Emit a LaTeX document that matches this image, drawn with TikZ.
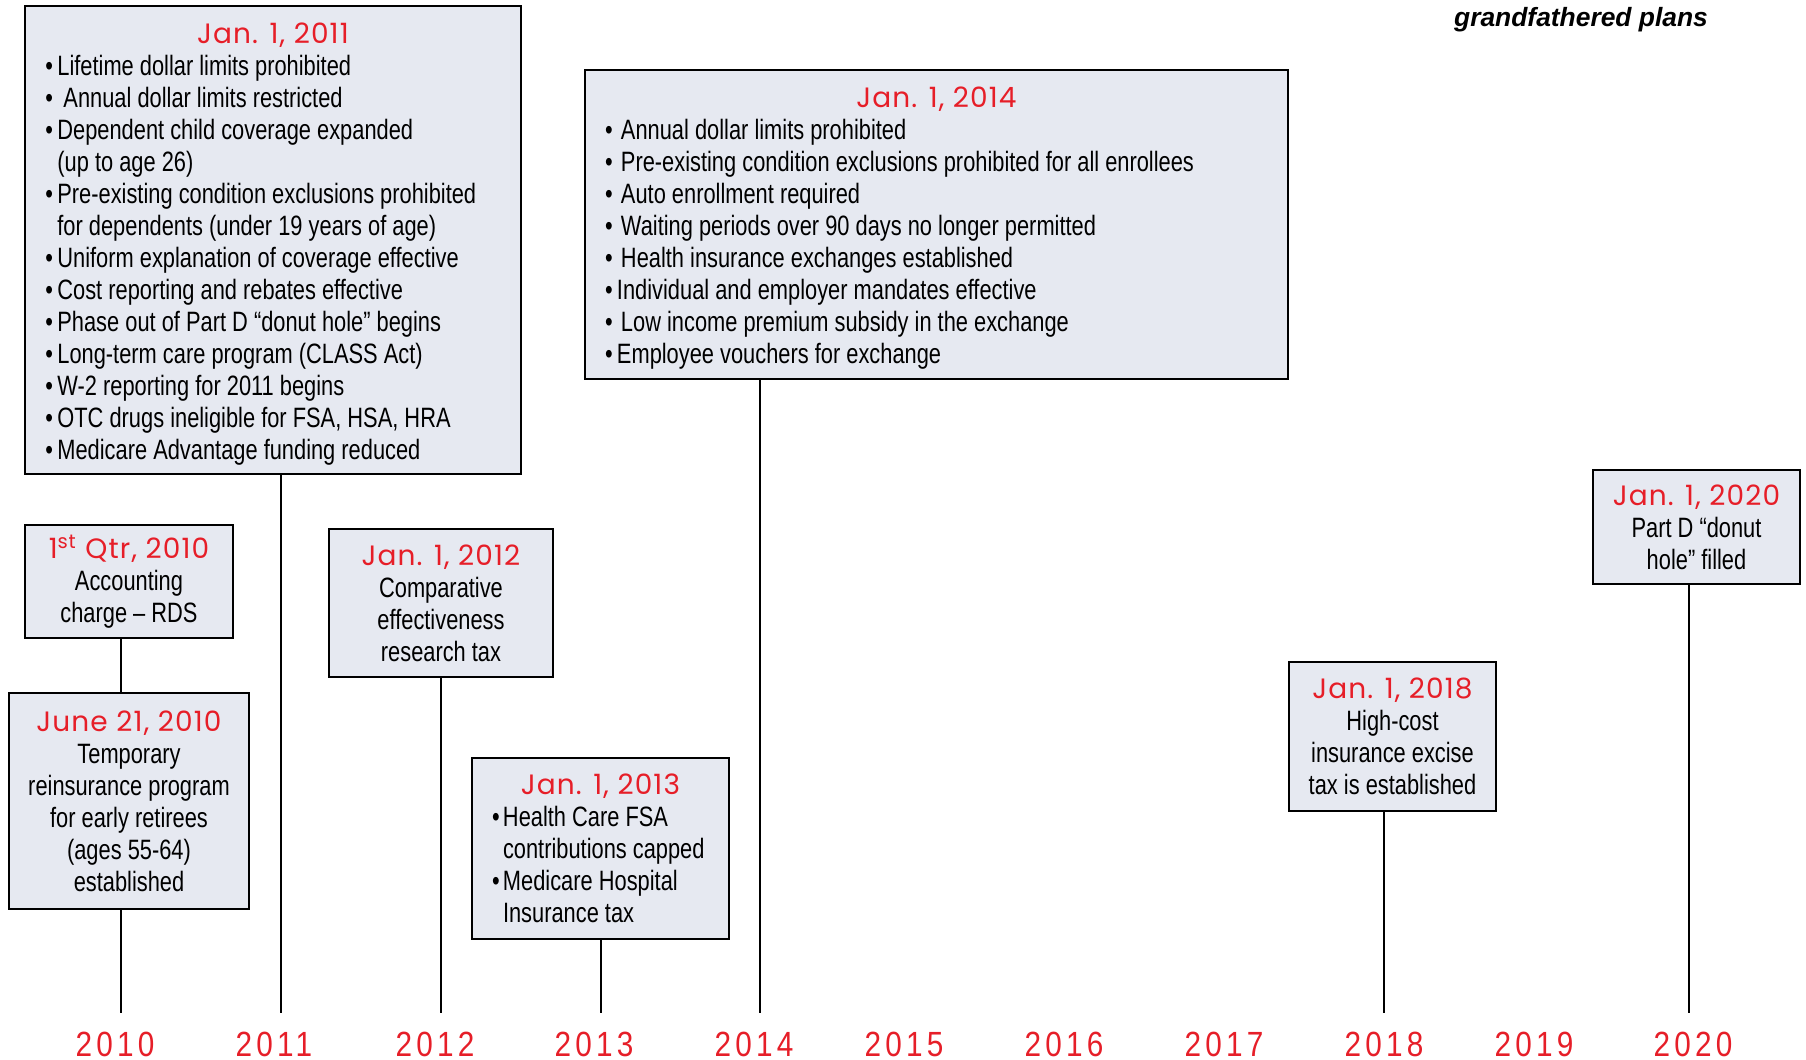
\documentclass[tikz,border=0pt]{standalone}
\usepackage{fontspec}
\setmainfont{Liberation Sans}[FakeStretch=0.78]
\newfontfamily\datefont{Poppins}[LetterSpace=4]
\newfontfamily\yearfont{Liberation Sans}[FakeStretch=0.85,LetterSpace=12]
\newfontfamily\notefont{Liberation Sans}
\definecolor{datered}{RGB}{230,30,40}
\definecolor{boxfill}{RGB}{230,233,241}
\newcommand\dt[1]{{\datefont\color{datered}#1}}
\newcommand\hd[1]{\makebox[\linewidth]{\dt{#1}}}
\newcommand\bl[1][6pt]{\hspace*{10pt}\makebox[#1][l]{\textbullet}}
\newcommand\cont[1][16pt]{\hspace*{#1}}

\begin{document}
\begin{tikzpicture}[x=0.5pt,y=-0.5pt,
    box/.style={draw,line width=1pt,fill=boxfill,inner sep=0pt,font=\fontsize{14}{16}\selectfont},
    listbox/.style={box,align=flush left},
    ctrbox/.style={box,align=center},
    stem/.style={line width=1pt},
    yr/.style={inner sep=0pt,text=datered,font=\yearfont\fontsize{17.5}{18}\selectfont}]

    \useasboundingbox (0,0) rectangle (1806,1060);

    \node[listbox,text width=247.6pt,minimum height=234.3pt] (b2011) at (273,240) {\rule{0pt}{14pt}\hd{Jan. 1, 2011}\\
      \bl Lifetime dollar limits prohibited\\
      \bl\ Annual dollar limits restricted\\
      \bl Dependent child coverage expanded\\
      \cont (up to age 26)\\
      \bl Pre-existing condition exclusions prohibited\\
      \cont for dependents (under 19 years of age)\\
      \bl Uniform explanation of coverage effective\\
      \bl Cost reporting and rebates effective\\
      \bl Phase out of Part D “donut hole” begins\\
      \bl Long-term care program (CLASS Act)\\
      \bl W-2 reporting for 2011 begins\\
      \bl OTC drugs ineligible for FSA, HSA, HRA\\
      \bl Medicare Advantage funding reduced};
    \node[ctrbox,minimum width=104pt,minimum height=56.5pt] (bq2010) at (129,581.5) {\dt{1\textsuperscript{st} Qtr, 2010}\\ Accounting\\ charge -- RDS};
    \node[ctrbox,minimum width=120pt,minimum height=108pt] (bjun2010) at (129,801) {\dt{June 21, 2010}\\ Temporary\\ reinsurance program\\ for early retirees\\ (ages 55-64)\\ established};
    \node[ctrbox,minimum width=112pt,minimum height=74pt] (b2012) at (441,603) {\dt{Jan. 1, 2012}\\ Comparative\\ effectiveness\\ research tax};
    \node[listbox,text width=128.5pt,minimum height=90.5pt] (b2013) at (600.5,848.5) {\hd{Jan. 1, 2013}\\
      \bl[5.5pt]Health Care FSA\\
      \cont[15.5pt]contributions capped\\
      \bl[5.5pt]Medicare Hospital\\
      \cont[15.5pt]Insurance tax};
    \node[listbox,text width=351.5pt,minimum height=154.5pt] (b2014) at (936.5,224.5) {\rule{0pt}{14pt}\hd{Jan. 1, 2014}\\
      \bl[8pt]Annual dollar limits prohibited\\
      \bl[8pt]Pre-existing condition exclusions prohibited for all enrollees\\
      \bl[8pt]Auto enrollment required\\
      \bl[8pt]Waiting periods over 90 days no longer permitted\\
      \bl[8pt]Health insurance exchanges established\\
      \bl[6pt]Individual and employer mandates effective\\
      \bl[8pt]Low income premium subsidy in the exchange\\
      \bl[6pt]Employee vouchers for exchange};
    \node[ctrbox,minimum width=103.5pt,minimum height=74.5pt] (b2018) at (1392.5,736.5) {\dt{Jan. 1, 2018}\\ High-cost\\ insurance excise\\ tax is established};
    \node[ctrbox,minimum width=103.5pt,minimum height=57pt] (b2020) at (1696.5,527) {\dt{Jan. 1, 2020}\\ Part D “donut\\ hole” filled};

    \node[font=\notefont\fontsize{13.2}{13}\selectfont\bfseries\itshape] (gf) at (1581,20) {grandfathered plans};

    \coordinate (k2010) at (121,1013);
    \coordinate (k2011) at (281,1013);
    \coordinate (k2012) at (441,1013);
    \coordinate (k2013) at (601,1013);
    \coordinate (k2014) at (760,1013);
    \coordinate (k2018) at (1384,1013);
    \coordinate (k2020) at (1689,1013);

    \draw[stem] (bq2010.south -| k2010) -- (bjun2010.north -| k2010);
    \draw[stem] (bjun2010.south -| k2010) -- (k2010);
    \draw[stem] (b2011.south -| k2011) -- (k2011);
    \draw[stem] (b2012.south -| k2012) -- (k2012);
    \draw[stem] (b2013.south -| k2013) -- (k2013);
    \draw[stem] (b2014.south -| k2014) -- (k2014);
    \draw[stem] (b2018.south -| k2018) -- (k2018);
    \draw[stem] (b2020.south -| k2020) -- (k2020);

    \node[yr] (y2010) at (115,1044) {2010};
    \node[yr] (y2011) at (274,1044) {2011};
    \node[yr] (y2012) at (435,1044) {2012};
    \node[yr] (y2013) at (594,1044) {2013};
    \node[yr] (y2014) at (754,1044) {2014};
    \node[yr] (y2015) at (904,1044) {2015};
    \node[yr] (y2016) at (1064,1044) {2016};
    \node[yr] (y2017) at (1224,1044) {2017};
    \node[yr] (y2018) at (1384,1044) {2018};
    \node[yr] (y2019) at (1534,1044) {2019};
    \node[yr] (y2020) at (1693,1044) {2020};
  \end{tikzpicture}
\end{document}
